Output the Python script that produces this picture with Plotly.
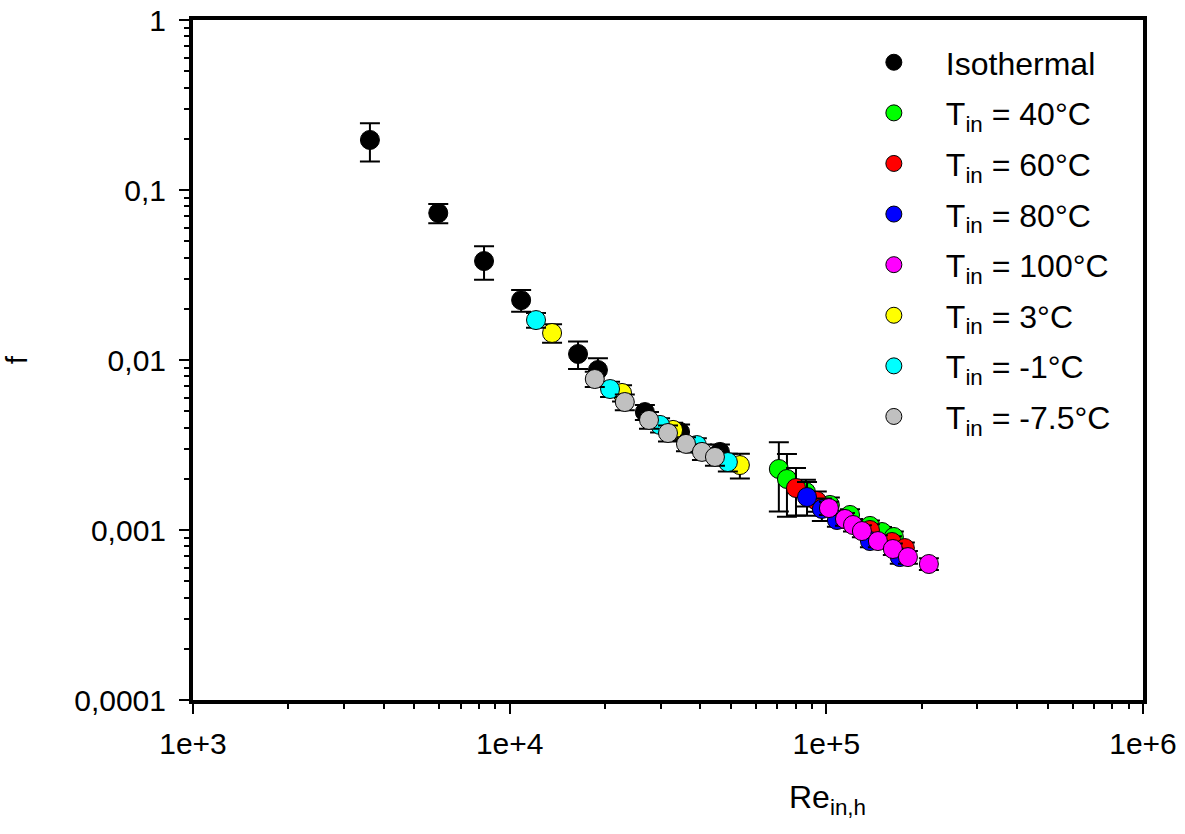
import plotly.graph_objects as go

# Re_in,h and friction factor f
iso_re = [3620, 5950, 8300, 10870, 16440, 19000, 26730, 34520, 46130]
iso_f = [0.197, 0.0732, 0.0382, 0.0225, 0.01085, 0.00873, 0.00494, 0.00377, 0.00288]
iso_err = [0.05, 0.0095, 0.0085, 0.0033, 0.002, 0.0015, 0.0005, 0.0004, 0.0003]

t40_re = [70800, 75100, 86200, 102600, 118800, 137300, 149900, 163400]
t40_f = [0.002285, 0.001995, 0.001674, 0.001404, 0.001226, 0.001057, 0.000973, 0.00091]
t40_err = [0.001, 0.0008, 0.0003, 0.00015, 0.0001, 0.00008, 0.00007, 0.00007]

t60_re = [80200, 93300, 112800, 137300, 161100, 177000]
t60_f = [0.001766, 0.001482, 0.001161, 0.001, 0.00085, 0.000783]
t60_err = [0.00055, 0.0002, 0.0001, 0.00008, 0.00007, 0.00006]

t80_re = [86900, 96800, 108000, 137300, 170600]
t80_f = [0.001563, 0.00133, 0.001145, 0.000861, 0.000693]
t80_err = [0.00035, 0.0002, 0.0001, 0.00007, 0.00006]

t100_re = [101900, 114500, 121400, 129500, 145500, 162200, 181000, 210800]
t100_f = [0.001346, 0.001161, 0.00107, 0.000986, 0.000861, 0.000773, 0.000693, 0.000631]
t100_err = [0.00012, 0.0001, 0.00009, 0.00008, 0.00007, 0.00006, 0.00006, 0.00005]

t3_re = [13610, 22640, 32810, 53330]
t3_f = [0.01442, 0.0064, 0.00388, 0.00241]
t3_err = [0.0018, 0.0007, 0.0004, 0.0004]

tm1_re = [12110, 20750, 29850, 39000, 48870]
tm1_f = [0.01718, 0.00675, 0.00415, 0.00316, 0.00251]
tm1_err = [0.0017, 0.0007, 0.0004, 0.0003, 0.0003]

tm75_re = [18570, 23100, 27540, 31620, 36040, 40480, 44490]
tm75_f = [0.00773, 0.00566, 0.00444, 0.00372, 0.00321, 0.00288, 0.00269]
tm75_err = [0.0008, 0.0006, 0.0005, 0.0004, 0.0003, 0.0003, 0.0003]

series = [
    ("Isothermal", "#000000", iso_re, iso_f, iso_err),
    ("T<sub>in</sub> = 40°C", "#00ff00", t40_re, t40_f, t40_err),
    ("T<sub>in</sub> = 60°C", "#ff0000", t60_re, t60_f, t60_err),
    ("T<sub>in</sub> = 80°C", "#0000ff", t80_re, t80_f, t80_err),
    ("T<sub>in</sub> = 100°C", "#ff00ff", t100_re, t100_f, t100_err),
    ("T<sub>in</sub> = 3°C", "#ffff00", t3_re, t3_f, t3_err),
    ("T<sub>in</sub> = -1°C", "#00ffff", tm1_re, tm1_f, tm1_err),
    ("T<sub>in</sub> = -7.5°C", "#c0c0c0", tm75_re, tm75_f, tm75_err),
]

x_ticks = [1e3, 1e4, 1e5, 1e6]
x_labels = ["1e+3", "1e+4", "1e+5", "1e+6"]
y_ticks = [1e-4, 1e-3, 1e-2, 1e-1, 1]
y_labels = ["0,0001", "0,001", "0,01", "0,1", "1"]

fig = go.Figure()
for i, (name, col, xs, ys, errs) in enumerate(series):
    fig.add_trace(go.Scatter(
        x=xs, y=ys, mode="markers", name=name,
        legendgroup=str(i),
        marker=dict(size=19, color=col, line=dict(color="black", width=1)),
        error_y=dict(type="data", array=errs, color="black", thickness=2, width=10),
    ))

minor_x = [m * 10 ** e for e in range(3, 6) for m in range(2, 10)]
minor_y = [m * 10 ** e for e in range(-4, 0) for m in range(2, 10)]

# body margin is removed in the page (post_script), so the figure fills the window
fig.update_layout(
    width=1185, height=834,
    margin=dict(l=193, r=42, t=20, b=134, autoexpand=False),
    plot_bgcolor="white", paper_bgcolor="white",
    font=dict(family="Liberation Sans, Arial, sans-serif", color="black", size=30),
    showlegend=True,
    legend=dict(x=0.683, y=0.978, xanchor="left", yanchor="top",
                font=dict(size=32), bgcolor="rgba(0,0,0,0)",
                tracegroupgap=6, itemsizing="trace", itemwidth=94),
    xaxis=dict(type="log", range=[3, 6], tickvals=x_ticks, ticktext=x_labels,
               automargin=False,
               ticks="outside", ticklen=10, tickwidth=2, tickcolor="black",
               ticklabelstandoff=4, ticklabeloverflow="allow",
               showline=True, linewidth=4, linecolor="black", mirror=True,
               showgrid=False, zeroline=False,
               minor=dict(tickmode="array", tickvals=minor_x, ticks="outside",
                          ticklen=5, tickwidth=1.5, tickcolor="black", showgrid=False)),
    yaxis=dict(type="log", range=[-4, 0], tickvals=y_ticks, ticktext=y_labels,
               automargin=False,
               ticks="outside", ticklen=10, tickwidth=2, tickcolor="black",
               ticklabelstandoff=7, ticklabeloverflow="allow",
               showline=True, linewidth=4, linecolor="black", mirror=True,
               showgrid=False, zeroline=False,
               minor=dict(tickmode="array", tickvals=minor_y, ticks="outside",
                          ticklen=5, tickwidth=1.5, tickcolor="black", showgrid=False),
               title=dict(text="f", font=dict(size=30), standoff=41)),
    annotations=[dict(text="Re<sub>in,h</sub>", xref="paper", yref="paper",
                      x=0.668, y=-0.147, xanchor="center", yanchor="middle",
                      showarrow=False, font=dict(size=32))],
)

fig.write_html("out.html", config={"displayModeBar": False},
               post_script="document.body.style.margin='0px';")
